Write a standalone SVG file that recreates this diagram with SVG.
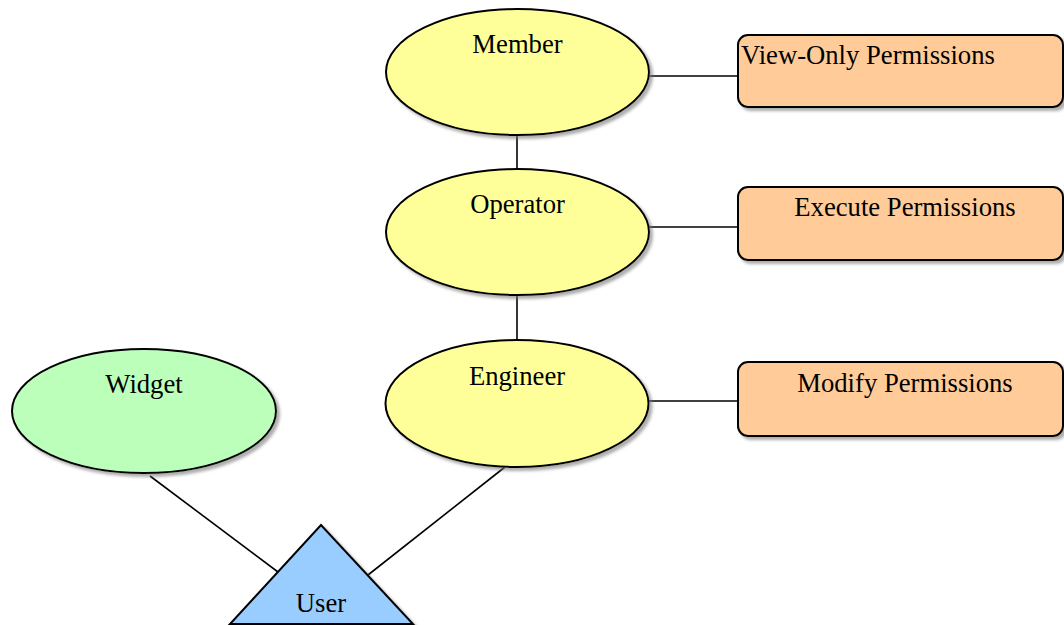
<svg xmlns="http://www.w3.org/2000/svg" width="1064" height="625" viewBox="0 0 1064 625">
<style>
.shape{stroke:#000;stroke-width:2;filter:url(#sh)}
.yel{fill:#ffff99}
.grn{fill:#bbffbb}
.blu{fill:#99ccff}
.org{fill:#ffcc99}
.lbl{font-family:"Liberation Serif","Times New Roman",serif;font-size:26.67px;fill:#000}
.mid{text-anchor:middle}
.conn line{stroke:#000;stroke-width:1.6}
</style>
<defs>
<filter id="sh" x="-10%" y="-10%" width="130%" height="130%">
<feDropShadow dx="3" dy="3" stdDeviation="1.5" flood-color="#777" flood-opacity="0.6"/>
</filter>
</defs>
<rect width="1064" height="625" fill="#fff"/>
<g class="conn">
<line x1="517" y1="134" x2="517" y2="169"/>
<line x1="517" y1="295" x2="517" y2="340"/>
<line x1="649" y1="76" x2="738" y2="76"/>
<line x1="649" y1="227" x2="738" y2="227"/>
<line x1="648" y1="401" x2="738" y2="401"/>
<line x1="150" y1="476" x2="278" y2="572"/>
<line x1="505" y1="467" x2="368" y2="575"/>
</g>
<g id="member">
<ellipse class="shape yel" cx="517.5" cy="72" rx="131.5" ry="63"/>
<text class="lbl mid" x="517.5" y="53">Member</text>
</g>
<g id="operator">
<ellipse class="shape yel" cx="517.5" cy="232" rx="131.5" ry="63"/>
<text class="lbl mid" x="517.5" y="213">Operator</text>
</g>
<g id="engineer">
<ellipse class="shape yel" cx="517" cy="403.5" rx="131.5" ry="63.5"/>
<text class="lbl mid" x="517" y="385">Engineer</text>
</g>
<g id="widget">
<ellipse class="shape grn" cx="144" cy="411" rx="132" ry="62"/>
<text class="lbl mid" x="144" y="393">Widget</text>
</g>
<g id="user">
<polygon class="shape blu" points="321,525 413,624 230,624"/>
<text class="lbl mid" x="321" y="612">User</text>
</g>
<g id="viewonly">
<rect class="shape org" x="738" y="35" width="325" height="72" rx="10" ry="10"/>
<text class="lbl" x="741" y="64">View-Only Permissions</text>
</g>
<g id="execute">
<rect class="shape org" x="738" y="187" width="325" height="73" rx="10" ry="10"/>
<text class="lbl mid" x="905" y="216">Execute Permissions</text>
</g>
<g id="modify">
<rect class="shape org" x="738" y="362" width="325" height="74" rx="10" ry="10"/>
<text class="lbl mid" x="905" y="392">Modify Permissions</text>
</g>
</svg>
